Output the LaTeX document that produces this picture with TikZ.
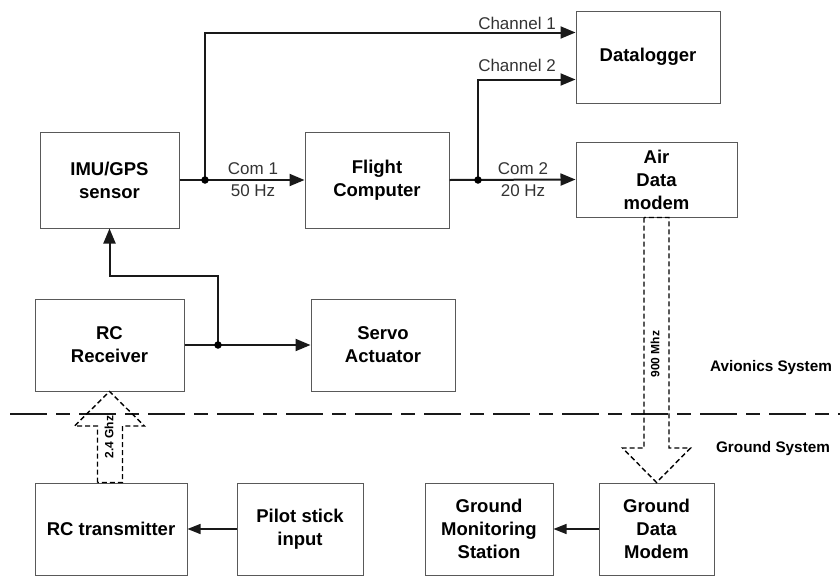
\documentclass[tikz,border=0pt]{standalone}
\usepackage{fontspec}
\setmainfont{Liberation Sans}
\usetikzlibrary{arrows.meta,calc}
\begin{document}
\begin{tikzpicture}[x=1pt,y=-1pt,
  box/.style={draw=black!65,line width=1pt,align=center,inner sep=0pt,
    font=\fontsize{18.5}{23}\selectfont\bfseries},
  conn/.style={draw=black!90,line width=2pt,-{Triangle[length=15pt,width=12pt]}},
  connb/.style={draw=black!90,line width=1.4pt,-{Triangle[length=13pt,width=10pt]}},
  plain/.style={draw=black!90,line width=2pt},
  lbl/.style={align=center,inner sep=0pt,text=black!80,font=\fontsize{17}{22}\selectfont},
  sys/.style={inner sep=0pt,font=\fontsize{15.3}{18}\selectfont\bfseries},
  radio/.style={inner sep=0pt,font=\fontsize{12}{14}\selectfont\bfseries},
  hollow/.style={draw=black,line width=1.4pt,dash pattern=on 5pt off 3pt,line join=miter},
  divider/.style={draw=black!90,line width=1.8pt,dash pattern=on 37pt off 9pt on 14pt off 9pt},
  dot/.style={circle,fill=black,inner sep=0pt,minimum size=7.5pt}]
\useasboundingbox (0,0) rectangle (840,576);

% boxes
\node[box,minimum width=139pt,minimum height=96pt] (imu) at (109.5,180) {IMU/GPS\\sensor};
\node[box,minimum width=144pt,minimum height=96pt] (fc) at (377,180) {Flight\\Computer};
\node[box,minimum width=144pt,minimum height=92pt] (dl) at (648,57) {Datalogger};
\node[box,minimum width=161pt,minimum height=75pt] (adm) at (656.5,179.5) {Air\\Data\\modem};
\node[box,minimum width=149pt,minimum height=92pt] (rcr) at (109.5,345) {RC\\Receiver};
\node[box,minimum width=144pt,minimum height=92pt] (servo) at (383,345) {Servo\\Actuator};
\node[box,minimum width=152pt,minimum height=92pt] (rct) at (111,529) {RC transmitter};
\node[box,minimum width=126pt,minimum height=92pt] (pilot) at (300,529) {Pilot stick\\input};
\node[box,minimum width=128pt,minimum height=92pt] (gms) at (489,529) {Ground\\Monitoring\\Station};
\node[box,minimum width=115pt,minimum height=92pt] (gdm) at (656.5,529) {Ground\\Data\\Modem};

% junction coordinates
\coordinate (j1) at (205,180);
\coordinate (j2) at (478,180);
\coordinate (j3) at (218,345);
\coordinate (ch1) at ($(dl.north west)+(0,22)$);
\coordinate (ch2) at ($(dl.north west)+(0,69)$);
\coordinate (bend) at (218,276);

% connectors
\draw[conn] (imu.east) -- (fc.west);
\draw[conn] (j1) |- (ch1);
\draw[conn] (fc.east) -- (adm.west);
\draw[conn] (j2) |- (ch2);
\draw[conn] (rcr.east) -- (servo.west);
\draw[conn] (j3) -- (bend) -| (imu.south);
\draw[connb] (pilot.west) -- (rct.east);
\draw[connb] (gdm.west) -- (gms.east);

\node[dot] (d1) at (j1) {};
\node[dot] (d2) at (j2) {};
\node[dot] (d3) at (j3) {};

% labels
\node[lbl] (l1) at (253,180) {Com 1\\50 Hz};
\node[lbl] (l2) at (523,180) {Com 2\\20 Hz};
\node[lbl] (l3) at (517,23) {Channel 1};
\node[lbl] (l4) at (517,65) {Channel 2};

% divider
\coordinate (dvl) at (10,414);
\coordinate (dvr) at (840,414);
\draw[divider] (dvl) -- (dvr);
\node[sys] (av) at (771,368) {Avionics System};
\node[sys] (gs) at (773,449) {Ground System};

% hollow radio arrows
\coordinate (w1) at (0,426);
\draw[hollow] ($(rcr.south|-rct.north)+(-12,0)$) -- ($(rcr.south|-w1)+(-12,0)$)
  -- ($(rcr.south|-w1)+(-35,0)$) -- (rcr.south) -- ($(rcr.south|-w1)+(35,0)$)
  -- ($(rcr.south|-w1)+(13,0)$) -- ($(rcr.south|-rct.north)+(13,0)$) -- cycle;
\node[radio,rotate=90] (r1) at (109,437) {2.4 Ghz};

\coordinate (w2) at (0,448);
\draw[hollow] ($(gdm.north|-adm.south)+(-12.5,0)$) -- ($(gdm.north|-w2)+(-12.5,0)$)
  -- ($(gdm.north|-w2)+(-34,0)$) -- (gdm.north) -- ($(gdm.north|-w2)+(34,0)$)
  -- ($(gdm.north|-w2)+(12.5,0)$) -- ($(gdm.north|-adm.south)+(12.5,0)$) -- cycle;
\node[radio,rotate=90] (r2) at (655,354) {900 Mhz};
\end{tikzpicture}
\end{document}
